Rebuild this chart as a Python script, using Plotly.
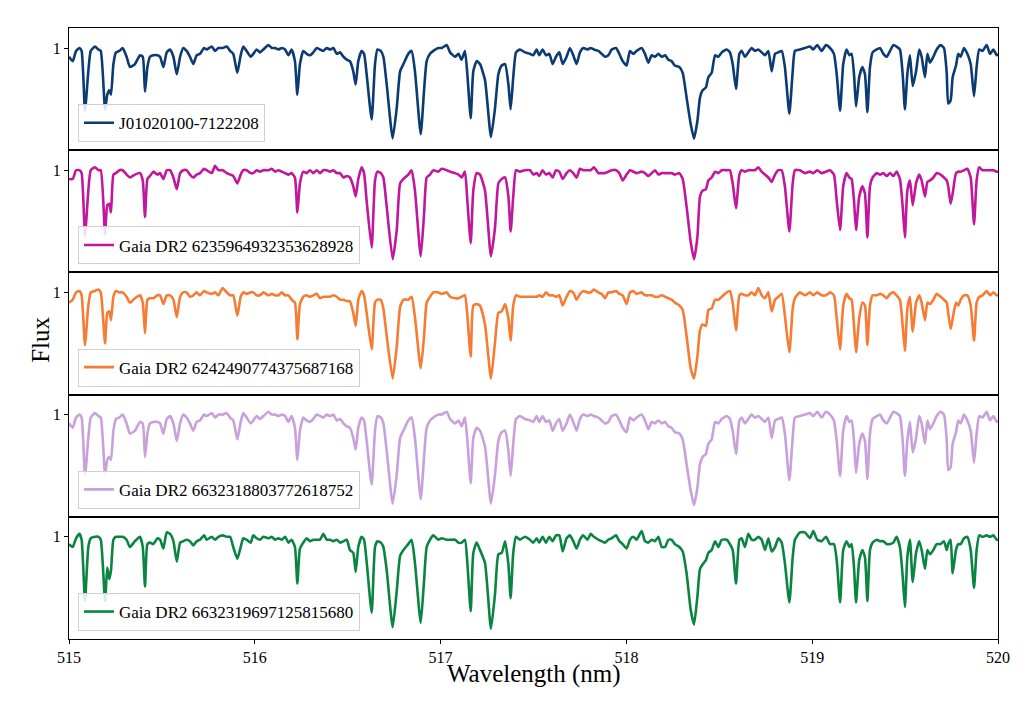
import plotly.graph_objects as go
from plotly.subplots import make_subplots

# wavelength grid (nm), shared by all five spectra
wavelength = [
    515.000, 515.020, 515.038, 515.056, 515.068, 515.086, 515.104, 515.117, 515.140, 515.158,
    515.171, 515.194, 515.206, 515.217, 515.226, 515.239, 515.253, 515.271, 515.289, 515.310,
    515.328, 515.355, 515.382, 515.397, 515.409, 515.422, 515.436, 515.454, 515.476, 515.490,
    515.508, 515.526, 515.544, 515.562, 515.580, 515.598, 515.615, 515.633, 515.651, 515.669,
    515.687, 515.705, 515.727, 515.741, 515.768, 515.786, 515.804, 515.827, 515.849, 515.867,
    515.884, 515.906, 515.924, 515.938, 515.956, 515.978, 515.992, 516.010, 516.028, 516.046,
    516.073, 516.091, 516.109, 516.127, 516.145, 516.163, 516.181, 516.198, 516.216, 516.229,
    516.243, 516.261, 516.279, 516.297, 516.315, 516.333, 516.351, 516.369, 516.387, 516.405,
    516.423, 516.441, 516.459, 516.477, 516.495, 516.512, 516.530, 516.543, 516.557, 516.575,
    516.588, 516.602, 516.629, 516.647, 516.660, 516.678, 516.692, 516.710, 516.742, 516.764,
    516.782, 516.800, 516.826, 516.844, 516.862, 516.893, 516.911, 516.925, 516.943, 516.961,
    516.988, 517.006, 517.033, 517.051, 517.078, 517.096, 517.113, 517.131, 517.144, 517.162,
    517.176, 517.194, 517.212, 517.239, 517.271, 517.293, 517.311, 517.329, 517.347, 517.365,
    517.377, 517.391, 517.406, 517.427, 517.454,
    517.481, 517.499, 517.517, 517.531, 517.549, 517.567, 517.585, 517.603, 517.621, 517.639,
    517.657, 517.678, 517.696, 517.714, 517.732, 517.750, 517.768, 517.790, 517.808, 517.825,
    517.849, 517.867, 517.885, 517.903, 517.921, 517.944, 517.962, 517.980, 518.001, 518.019,
    518.037, 518.055, 518.082, 518.100, 518.118, 518.136, 518.154, 518.172, 518.190, 518.208,
    518.226, 518.243, 518.261, 518.285, 518.303, 518.324, 518.346, 518.364, 518.382, 518.396,
    518.410, 518.428, 518.441, 518.459, 518.477, 518.495, 518.513, 518.540, 518.557, 518.572,
    518.590, 518.608, 518.620, 518.638, 518.656, 518.674, 518.692, 518.710, 518.728, 518.746,
    518.764, 518.782, 518.800, 518.818, 518.836, 518.853, 518.877, 518.895, 518.907, 518.934,
    518.961, 518.988, 519.006, 519.027, 519.051, 519.074, 519.096, 519.117, 519.132, 519.150,
    519.167, 519.185, 519.200, 519.212, 519.225, 519.236, 519.253, 519.270, 519.284, 519.297,
    519.311, 519.325, 519.347, 519.365, 519.383, 519.401, 519.419, 519.437, 519.454, 519.472,
    519.487, 519.499, 519.512, 519.526, 519.541, 519.559, 519.576, 519.589, 519.607, 519.620,
    519.634, 519.652, 519.670, 519.691, 519.709, 519.724, 519.732, 519.745, 519.756, 519.774,
    519.786, 519.799, 519.817, 519.835, 519.853, 519.871, 519.885, 519.899, 519.917, 519.939,
    519.957, 519.975, 519.993, 520.000,
]

flux_j0102 = [
    0.94, 0.91, 0.98, 1.00, 0.98, 0.57, 0.84, 0.98, 1.01, 0.99,
    0.98, 0.58, 0.68, 0.71, 0.68, 0.89, 0.97, 0.98, 1.00, 0.94,
    0.87, 0.89, 0.95, 0.94, 0.70, 0.87, 0.94, 0.95, 0.95, 0.94,
    0.87, 0.97, 0.99, 0.94, 0.82, 0.94, 1.00, 0.98, 0.94, 0.89,
    0.95, 0.96, 1.00, 0.99, 1.01, 0.98, 1.00, 1.00, 1.01, 0.98,
    0.96, 0.83, 0.95, 1.01, 0.98, 0.94, 0.96, 0.99, 0.97, 0.99,
    1.02, 1.00, 1.00, 0.99, 1.00, 0.99, 0.95, 0.99, 0.91, 0.68,
    0.89, 0.98, 0.96, 0.95, 0.97, 1.00, 0.99, 0.98, 1.00, 0.99,
    1.00, 0.96, 0.97, 0.94, 0.92, 0.91, 0.84, 0.75, 0.91, 0.98,
    0.96, 0.82, 0.51, 0.89, 0.99, 0.98, 0.94, 0.75, 0.38, 0.59,
    0.84, 0.89, 0.96, 0.98, 0.84, 0.41, 0.71, 0.91, 0.96, 0.98,
    1.00, 1.00, 1.02, 0.97, 0.94, 0.96, 0.92, 0.98, 0.82, 0.52,
    0.84, 0.91, 0.89, 0.78, 0.39, 0.59, 0.82, 0.88, 0.89, 0.75,
    0.58, 0.80, 0.97, 0.99, 0.97,
    0.96, 0.95, 0.99, 0.95, 0.99, 0.95, 0.96, 0.89, 0.94, 0.97,
    0.89, 0.94, 1.00, 0.95, 0.89, 0.97, 1.00, 0.99, 1.00, 0.99,
    0.98, 0.96, 0.94, 0.95, 0.99, 1.00, 0.96, 0.91, 0.88, 0.98,
    0.96, 0.98, 1.00, 0.96, 0.90, 0.95, 0.94, 0.96, 0.94, 0.95,
    0.92, 0.91, 0.88, 0.87, 0.83, 0.66, 0.48, 0.38, 0.50, 0.66,
    0.71, 0.73, 0.80, 0.83, 0.95, 0.94, 0.97, 0.99, 0.97, 0.89,
    0.72, 0.96, 0.98, 0.94, 0.97, 1.00, 0.98, 0.99, 0.97, 0.95,
    0.98, 0.84, 0.96, 0.97, 0.98, 0.87, 0.55, 0.84, 0.98, 0.99,
    1.00, 1.01, 0.99, 1.02, 0.98, 1.02, 1.00, 0.96, 0.82, 0.57,
    0.89, 0.99, 0.95, 0.96, 0.82, 0.60, 0.80, 0.87, 0.82, 0.56,
    0.87, 0.97, 0.99, 1.00, 0.96, 0.94, 0.98, 1.02, 1.01, 0.99,
    0.82, 0.58, 0.82, 0.95, 0.74, 0.84, 0.99, 0.94, 0.80, 0.96,
    0.90, 0.94, 0.99, 1.02, 1.00, 0.83, 0.62, 0.64, 0.80, 0.88,
    0.96, 0.94, 1.00, 0.96, 0.89, 0.67, 0.87, 0.99, 0.98, 1.02,
    0.96, 0.99, 0.95, 0.96,
]

flux_6235 = [
    0.94, 0.94, 1.00, 1.00, 0.98, 0.55, 0.86, 1.00, 1.02, 1.00,
    1.00, 0.56, 0.76, 0.77, 0.71, 0.97, 0.98, 1.00, 1.00, 0.97,
    0.95, 0.97, 0.98, 0.93, 0.68, 0.94, 0.96, 0.99, 0.97, 0.98,
    0.94, 1.00, 1.00, 0.95, 0.87, 0.98, 1.00, 1.00, 0.97, 0.95,
    0.97, 0.98, 1.01, 1.00, 0.98, 1.03, 1.00, 1.00, 0.98, 0.97,
    0.96, 0.91, 0.97, 1.00, 1.00, 0.98, 0.98, 1.00, 0.99, 1.00,
    1.00, 1.01, 0.99, 1.00, 0.99, 0.98, 0.97, 0.98, 0.95, 0.71,
    0.91, 0.99, 0.98, 1.00, 0.98, 1.00, 0.98, 1.00, 1.00, 0.99,
    1.00, 0.98, 0.98, 0.95, 0.96, 0.95, 0.89, 0.82, 0.94, 1.02,
    0.98, 0.79, 0.47, 0.93, 0.99, 0.98, 0.95, 0.75, 0.39, 0.59,
    0.91, 0.94, 0.97, 1.00, 0.86, 0.41, 0.70, 0.95, 0.97, 1.00,
    0.99, 1.01, 1.00, 0.99, 0.98, 0.97, 0.95, 0.99, 0.79, 0.50,
    0.86, 0.98, 0.97, 0.86, 0.41, 0.61, 0.91, 0.94, 0.95, 0.82,
    0.58, 0.82, 1.00, 0.99, 1.00,
    1.00, 0.97, 0.98, 0.96, 1.00, 0.97, 0.98, 0.95, 1.00, 0.99,
    0.94, 0.98, 1.00, 0.98, 0.95, 1.01, 1.00, 1.00, 1.00, 1.02,
    0.98, 0.98, 0.98, 0.99, 1.00, 1.00, 0.98, 0.93, 0.97, 1.00,
    0.99, 0.98, 0.99, 0.98, 0.96, 0.98, 1.00, 0.97, 0.98, 0.98,
    0.98, 0.98, 0.97, 0.98, 0.94, 0.75, 0.51, 0.39, 0.54, 0.82,
    0.86, 0.87, 0.93, 0.95, 0.99, 0.98, 1.00, 1.00, 1.00, 0.91,
    0.74, 0.97, 1.00, 0.99, 1.00, 1.00, 1.00, 1.02, 0.99, 0.97,
    0.95, 0.92, 0.97, 1.00, 1.00, 0.89, 0.58, 0.91, 1.00, 1.00,
    0.98, 0.99, 0.98, 1.00, 0.98, 0.99, 1.00, 0.97, 0.79, 0.59,
    0.89, 0.98, 0.95, 0.94, 0.79, 0.59, 0.82, 0.89, 0.84, 0.54,
    0.89, 0.95, 0.98, 0.97, 0.98, 0.96, 0.98, 0.96, 0.99, 0.94,
    0.75, 0.54, 0.86, 0.93, 0.76, 0.91, 0.97, 0.93, 0.82, 0.92,
    0.93, 0.95, 0.98, 0.97, 0.95, 0.93, 0.89, 0.77, 0.84, 0.98,
    0.99, 0.99, 1.00, 1.01, 0.95, 0.63, 0.93, 1.02, 1.00, 1.00,
    1.00, 1.00, 0.99, 0.99,
]

flux_6242 = [
    0.93, 0.95, 1.00, 1.01, 0.98, 0.64, 0.91, 1.00, 1.01, 1.02,
    1.00, 0.65, 0.86, 0.87, 0.81, 0.97, 1.01, 1.00, 1.00, 0.97,
    0.93, 0.96, 0.98, 0.93, 0.72, 0.95, 0.96, 0.96, 0.98, 0.98,
    0.92, 0.98, 0.98, 0.95, 0.83, 0.97, 1.00, 1.00, 0.97, 0.98,
    1.00, 0.98, 1.01, 1.00, 0.99, 1.00, 0.98, 1.03, 1.00, 0.98,
    0.98, 0.84, 0.97, 1.00, 0.99, 1.00, 1.00, 0.98, 0.98, 1.00,
    0.98, 0.99, 0.98, 0.98, 1.00, 0.98, 0.98, 0.95, 0.93, 0.68,
    0.92, 0.97, 0.98, 0.97, 0.98, 0.99, 0.96, 0.97, 0.97, 0.97,
    0.98, 0.97, 0.95, 0.95, 0.94, 0.94, 0.86, 0.77, 0.95, 1.01,
    0.98, 0.86, 0.61, 0.93, 0.95, 0.95, 0.89, 0.70, 0.41, 0.63,
    0.90, 0.95, 0.95, 0.97, 0.83, 0.48, 0.70, 0.93, 0.97, 1.00,
    1.00, 0.99, 1.00, 0.97, 0.96, 0.96, 0.97, 0.98, 0.84, 0.56,
    0.91, 0.92, 0.91, 0.78, 0.41, 0.66, 0.86, 0.87, 0.92, 0.82,
    0.67, 0.91, 0.98, 0.97, 0.97,
    0.97, 0.97, 0.97, 0.98, 0.97, 1.00, 0.98, 0.98, 0.97, 0.98,
    0.91, 0.97, 1.01, 1.00, 0.95, 0.99, 1.01, 1.00, 1.00, 1.02,
    1.00, 0.99, 0.96, 1.00, 1.00, 1.01, 0.99, 0.98, 0.92, 1.00,
    1.01, 0.99, 1.00, 0.98, 0.98, 0.98, 0.97, 0.97, 0.98, 0.97,
    0.96, 0.95, 0.93, 0.91, 0.88, 0.70, 0.48, 0.41, 0.56, 0.74,
    0.78, 0.77, 0.88, 0.89, 0.95, 0.95, 0.97, 1.00, 1.01, 0.93,
    0.74, 0.98, 0.99, 0.98, 0.98, 1.00, 0.98, 1.03, 0.98, 0.96,
    1.00, 0.87, 0.95, 0.97, 0.99, 0.84, 0.59, 0.89, 0.96, 1.00,
    0.98, 1.00, 0.98, 1.00, 0.98, 0.98, 1.00, 0.98, 0.82, 0.61,
    0.91, 0.99, 0.96, 0.95, 0.77, 0.59, 0.82, 0.93, 0.91, 0.64,
    0.91, 0.98, 0.98, 0.99, 0.98, 0.96, 0.99, 1.00, 0.98, 0.95,
    0.77, 0.60, 0.89, 0.97, 0.73, 0.93, 0.98, 0.93, 0.81, 0.93,
    0.92, 0.95, 0.99, 0.97, 0.95, 0.93, 0.86, 0.75, 0.82, 0.93,
    0.91, 0.95, 0.98, 0.98, 0.91, 0.67, 0.93, 0.97, 0.98, 1.01,
    0.98, 1.00, 0.98, 0.98,
]

flux_6632a = [
    0.94, 0.91, 0.98, 1.00, 0.98, 0.58, 0.84, 0.98, 1.01, 0.99,
    0.98, 0.59, 0.69, 0.71, 0.69, 0.89, 0.97, 0.98, 1.00, 0.94,
    0.87, 0.89, 0.95, 0.94, 0.71, 0.87, 0.94, 0.95, 0.95, 0.94,
    0.87, 0.97, 0.99, 0.94, 0.82, 0.94, 1.00, 0.98, 0.94, 0.89,
    0.95, 0.96, 1.00, 0.99, 1.01, 0.98, 1.00, 1.00, 1.01, 0.98,
    0.96, 0.83, 0.95, 1.01, 0.98, 0.94, 0.96, 0.99, 0.97, 0.99,
    1.02, 1.00, 1.00, 0.99, 1.00, 0.99, 0.95, 0.99, 0.91, 0.69,
    0.89, 0.98, 0.96, 0.95, 0.97, 1.00, 0.99, 0.98, 1.00, 0.99,
    1.00, 0.96, 0.97, 0.94, 0.92, 0.91, 0.84, 0.76, 0.91, 0.98,
    0.96, 0.82, 0.52, 0.89, 0.99, 0.98, 0.94, 0.75, 0.39, 0.59,
    0.84, 0.89, 0.96, 0.98, 0.84, 0.42, 0.71, 0.91, 0.96, 0.98,
    1.00, 1.00, 1.02, 0.97, 0.94, 0.96, 0.92, 0.98, 0.82, 0.53,
    0.84, 0.91, 0.89, 0.78, 0.39, 0.59, 0.82, 0.88, 0.89, 0.75,
    0.58, 0.80, 0.97, 0.99, 0.97,
    0.96, 0.95, 0.99, 0.95, 0.99, 0.95, 0.96, 0.89, 0.94, 0.97,
    0.89, 0.94, 1.00, 0.95, 0.89, 0.97, 1.00, 0.99, 1.00, 0.99,
    0.98, 0.96, 0.94, 0.95, 0.99, 1.00, 0.96, 0.91, 0.88, 0.98,
    0.96, 0.98, 1.00, 0.96, 0.90, 0.95, 0.94, 0.96, 0.94, 0.95,
    0.92, 0.91, 0.88, 0.87, 0.83, 0.66, 0.48, 0.38, 0.50, 0.66,
    0.71, 0.73, 0.80, 0.83, 0.95, 0.94, 0.97, 0.99, 0.97, 0.89,
    0.73, 0.96, 0.98, 0.94, 0.97, 1.00, 0.98, 0.99, 0.97, 0.95,
    0.98, 0.84, 0.96, 0.97, 0.98, 0.87, 0.55, 0.84, 0.98, 0.99,
    1.00, 1.01, 0.99, 1.02, 0.98, 1.02, 1.00, 0.96, 0.82, 0.58,
    0.89, 0.99, 0.95, 0.96, 0.82, 0.60, 0.80, 0.87, 0.82, 0.56,
    0.87, 0.97, 0.99, 1.00, 0.96, 0.94, 0.98, 1.02, 1.01, 0.99,
    0.82, 0.58, 0.82, 0.95, 0.74, 0.84, 0.99, 0.94, 0.80, 0.96,
    0.90, 0.94, 0.99, 1.02, 1.00, 0.83, 0.62, 0.64, 0.80, 0.88,
    0.96, 0.94, 1.00, 0.96, 0.89, 0.67, 0.87, 0.99, 0.98, 1.02,
    0.96, 0.99, 0.95, 0.96,
]

flux_6632b = [
    0.95, 0.93, 0.99, 1.02, 0.98, 0.56, 0.93, 0.99, 1.00, 1.00,
    0.98, 0.56, 0.79, 0.71, 0.77, 0.98, 1.00, 1.00, 1.00, 0.98,
    0.93, 0.97, 1.00, 0.93, 0.66, 0.95, 0.96, 0.95, 0.99, 0.98,
    0.92, 1.03, 1.02, 0.97, 0.83, 0.96, 0.97, 0.98, 0.97, 0.94,
    0.97, 0.98, 1.01, 0.98, 1.00, 0.98, 1.00, 1.01, 1.00, 1.00,
    0.93, 0.85, 0.93, 0.99, 0.98, 0.96, 1.01, 0.99, 0.98, 1.00,
    0.99, 1.00, 0.98, 0.99, 0.98, 1.00, 0.96, 0.98, 0.93, 0.68,
    0.92, 0.96, 0.99, 0.97, 0.98, 0.98, 0.98, 1.02, 0.98, 0.98,
    0.97, 0.98, 0.96, 0.97, 0.98, 0.91, 0.89, 0.76, 0.93, 1.00,
    0.98, 0.83, 0.48, 0.93, 0.97, 0.96, 0.93, 0.77, 0.38, 0.63,
    0.87, 0.91, 0.95, 0.98, 0.82, 0.41, 0.70, 0.93, 0.98, 1.01,
    0.98, 0.99, 0.98, 0.98, 0.98, 0.96, 0.96, 0.98, 0.82, 0.49,
    0.89, 0.96, 0.91, 0.82, 0.37, 0.61, 0.88, 0.89, 0.97, 0.81,
    0.58, 0.89, 1.00, 0.98, 1.00,
    0.98, 0.96, 0.99, 0.96, 1.00, 0.96, 1.00, 0.97, 1.01, 1.01,
    0.90, 0.99, 1.01, 0.97, 0.92, 0.98, 1.01, 0.98, 1.02, 1.00,
    0.98, 0.97, 0.96, 0.98, 0.99, 1.01, 0.97, 0.95, 0.92, 0.98,
    1.00, 0.98, 1.04, 0.97, 0.96, 0.98, 0.97, 1.00, 0.93, 0.93,
    0.98, 0.98, 0.95, 0.93, 0.90, 0.75, 0.50, 0.40, 0.59, 0.78,
    0.81, 0.84, 0.89, 0.91, 0.97, 0.93, 0.98, 0.98, 0.95, 0.91,
    0.68, 0.98, 0.99, 0.93, 1.02, 0.98, 0.98, 1.00, 0.98, 0.91,
    0.99, 0.90, 0.93, 0.99, 0.96, 0.82, 0.55, 0.86, 0.98, 1.03,
    1.03, 0.99, 1.04, 0.98, 0.97, 1.00, 0.95, 0.95, 0.84, 0.55,
    0.91, 0.97, 0.93, 0.95, 0.79, 0.55, 0.84, 0.91, 0.86, 0.56,
    0.91, 0.96, 0.98, 0.97, 0.97, 0.95, 0.95, 0.96, 1.00, 0.93,
    0.73, 0.52, 0.86, 0.98, 0.69, 0.89, 0.97, 0.91, 0.78, 0.91,
    0.88, 0.91, 0.95, 0.95, 0.97, 0.91, 0.95, 0.98, 0.75, 0.91,
    0.95, 0.95, 0.99, 1.00, 0.91, 0.65, 0.91, 1.01, 1.00, 1.01,
    1.00, 1.01, 0.98, 0.98,
]

star_names = [
    "J01020100-7122208",
    "Gaia DR2 6235964932353628928",
    "Gaia DR2 6242490774375687168",
    "Gaia DR2 6632318803772618752",
    "Gaia DR2 6632319697125815680",
]
fluxes = [flux_j0102, flux_6235, flux_6242, flux_6632a, flux_6632b]
colors = ["#0b3b72", "#c0179c", "#f57c32", "#c9a0dc", "#0a8541"]

for f in fluxes:
    assert len(f) == len(wavelength), len(f)

serif = "Liberation Serif, Times New Roman, serif"

fig = make_subplots(rows=5, cols=1, shared_xaxes=True, vertical_spacing=0)

# plot area height in px, used to place the legends
plot_h = 611.0
panel_h = plot_h / 5

for i, (name, flux, color) in enumerate(zip(star_names, fluxes, colors)):
    leg = "legend" if i == 0 else f"legend{i + 1}"
    fig.add_trace(go.Scatter(
        x=wavelength, y=flux, mode="lines", name=name,
        line=dict(color=color, width=2.6, shape="spline", smoothing=0.5),
        legend=leg,
    ), row=i + 1, col=1)

    # legend sits 8 px above the bottom of its panel
    leg_y = (plot_h - (i + 1) * panel_h + 8) / plot_h
    fig.update_layout({leg: dict(
        x=0.0097, y=leg_y, xanchor="left", yanchor="bottom",
        bgcolor="rgba(255,255,255,0.85)", bordercolor="#d0d0d0", borderwidth=1,
        font=dict(family=serif, size=17, color="black"),
        itemwidth=30, tracegroupgap=0,
    )})

    fig.update_yaxes(
        range=[0.3, 1.137], tickvals=[1], ticktext=["1"],
        ticks="outside", ticklen=4, tickcolor="black",
        showline=True, linecolor="black", linewidth=1, mirror=True,
        showgrid=False, zeroline=False,
        tickfont=dict(family=serif, size=16, color="black"),
        row=i + 1, col=1,
    )
    fig.update_xaxes(
        range=[515, 520], tickvals=[515, 516, 517, 518, 519, 520],
        ticks="outside" if i == 4 else "", ticklen=4, tickcolor="black",
        showline=True, linecolor="black", linewidth=1, mirror=True,
        showgrid=False, zeroline=False,
        tickfont=dict(family=serif, size=16, color="black"),
        row=i + 1, col=1,
    )

fig.add_annotation(
    text="Flux", xref="paper", yref="paper", x=-0.031, y=0.49,
    xanchor="center", yanchor="middle", textangle=-90, showarrow=False,
    font=dict(family=serif, size=25, color="black"),
)
fig.add_annotation(
    text="Wavelength (nm)", xref="paper", yref="paper", x=0.5, y=-0.057,
    xanchor="center", yanchor="middle", showarrow=False,
    font=dict(family=serif, size=25, color="black"),
)

# page body has an 8 px margin, so the figure is shrunk by that much
fig.update_layout(
    width=1019, height=695,
    margin=dict(l=61, r=29, t=20, b=64),
    plot_bgcolor="white", paper_bgcolor="white",
    showlegend=True,
)

fig.write_html("out.html")
